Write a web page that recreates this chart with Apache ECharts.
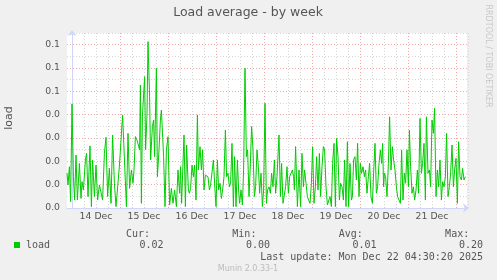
<!DOCTYPE html>
<html><head><meta charset="utf-8">
<script src="https://cdn.jsdelivr.net/npm/echarts@6/dist/echarts.min.js"></script>
<style>html,body{margin:0;padding:0;background:#f0f0f0;}#c{width:497px;height:280px;}</style>
</head><body><div id="c"></div>
<script>
// hours since 14 Dec 00:00
const sampleHours = [
-2.5,-2,-1.3,-0.7,0,0.7,1.3,2,2.7,3.7,4.5,5,5.7,6.7,7.3,8,9,9.7,10.3,11.2,12,12.8,13.7,14.5,15.3,16.2,17,17.8,18.7,19.5,20.3,21.2,22,22.8,23.7,24.5,25.3,
27.2,28,28.8,29.7,30.5,31,31.7,32.5,33.3,33.8,34.2,34.7,35.2,35.8,36.3,36.8,37.5,38,38.8,39.3,40.2,40.8,41.3,42.2,42.7,43.5,44.2,44.7,45.2,45.8,46.5,47.2,48,48.8,49.7,50.5,51.3,52.2,53,53.8,
54.3,54.8,56,56.7,57.3,58.2,58.7,59.3,60,60.7,61.3,62,62.7,63.2,64,64.7,65.3,66,66.7,67.3,68,68.7,69.3,70,70.7,71.3,72,72.7,73.3,74,74.7,75.3,76,76.7,77.3,78,78.7,79.3,80,80.7,81.3,82,82.7,
83.3,83.8,84.5,85.2,85.8,86.5,87.2,87.8,88.5,89.2,89.8,90.5,91.2,91.8,92.5,93.2,93.8,94.5,95.2,95.8,96.5,97.2,97.8,98.5,99.2,99.8,100.5,101.2,101.8,102.5,103.5,104.2,104.8,105.5,106.2,106.8,107.5,108.2,108.8,109.5,110.2,110.8,
111.2,111.8,112.7,113.5,114.3,115,115.7,116.3,117,117.7,118.3,119,119.7,120.3,121,121.7,122.3,123,123.7,124.3,125,125.7,126.3,127,127.7,128.3,129,129.7,130.3,131,131.7,132.3,133,133.7,134.3,135,135.7,136.3,137,137.7,138.3,139,139.7,
140.2,140.8,141.5,142.2,142.8,143.5,144.2,144.8,145.5,146.2,146.8,147.5,148.2,148.8,149.5,150.2,150.8,151.5,152.2,152.8,153.5,154.2,154.8,155.3,155.8,156.2,156.8,157.5,158.2,158.8,159.5,160.2,160.8,161.5,162.2,162.8,163.5,164.2,164.8,165.5,166.2,166.8,167.5,168.2,
168.7,169.3,170,170.7,171.3,172,172.7,173.3,174,174.7,175.3,176,176.7,177.2,178,178.7,179.3,180,180.7,181.3,182,182.7,183.3,184,184.7,185.3,186,186.7,187.3,188,188.7,189.3,190,190.7,191.3,192,192.7,193.3,194,194.7,195.3,196,196.7
];
const loadValues = [
.0149,.0099,.0177,.0027,.0446,.0134,.0034,.0227,.0034,.0191,.0041,.0113,.0077,.0206,.0234,.0049,.0266,.0006,.0206,.0049,.0184,.0034,.0099,.0099,.0034,.0234,.0303,.0049,.0170,.0020,.0313,.0106,.0006,.0006,.0180,.0184,.0399,
.0006,.0320,.0084,.0163,.0106,.0163,.0306,.0291,.0291,.0249,.0527,.0020,.0391,.0399,.0563,.0249,.0399,.0713,.0477,.0206,.0349,.0377,.0220,.0599,.0134,.0249,.0377,.0420,.0413,.0220,.0006,.0249,.0306,.0013,.0084,.0020,.0077,.0006,.0163,.0063,
.0177,.0020,.0313,.0006,.0270,.0077,.0063,.0084,.0184,.0134,.0184,.0034,.0399,.0163,.0263,.0163,.0249,.0077,.0141,.0149,.0134,.0077,.0099,.0091,.0206,.0106,.0006,.0206,.0077,.0106,.0041,.0077,.0134,.0334,.0134,.0149,.0091,.0106,.0277,.0006,.0220,.0006,.0206,
.0077,.0020,.0077,.0013,.0163,.0599,.0220,.0249,.0049,.0191,.0349,.0249,.0049,.0091,.0249,.0177,.0063,.0149,.0006,.0077,.0449,.0020,.0077,.0091,.0063,.0149,.0091,.0206,.0063,.0134,.0313,.0049,.0191,.0020,.0013,.0091,.0177,.0063,.0134,.0134,.0163,.0134,
.0077,.0263,.0006,.0163,.0006,.0234,.0091,.0163,.0106,.0049,.0034,.0020,.0106,.0263,.0020,.0091,.0220,.0077,.0234,.0049,.0177,.0263,.0249,.0091,.0013,.0020,.0049,.0006,.0191,.0277,.0006,.0299,.0220,.0034,.0106,.0091,.0034,.0206,.0006,.0284,.0006,.0191,.0034,
.0049,.0206,.0220,.0120,.0277,.0049,.0191,.0149,.0177,.0134,.0163,.0063,.0134,.0191,.0049,.0020,.0149,.0277,.0063,.0091,.0191,.0249,.0191,.0277,.0091,.0149,.0134,.0049,.0191,.0391,.0163,.0263,.0206,.0163,.0091,.0049,.0034,.0020,.0249,.0034,.0149,.0106,.0249,.0091,
.0334,.0177,.0063,.0091,.0034,.0077,.0163,.0063,.0384,.0149,.0191,.0277,.0034,.0391,.0149,.0163,.0091,.0377,.0320,.0427,.0049,.0163,.0091,.0206,.0034,.0113,.0091,.0134,.0320,.0049,.0091,.0149,.0270,.0091,.0163,.0213,.0020,.0284,.0134,.0120,.0170,.0120,.0134
];
const dayLabels = ['14 Dec','15 Dec','16 Dec','17 Dec','18 Dec','19 Dec','20 Dec','21 Dec'];
const yTickLabels = ['0.0','0.0','0.0','0.0','0.0','0.1','0.1','0.1'];
const statNames = ['Cur:','Min:','Avg:','Max:'];
const statValues = ['0.02','0.00','0.01','0.20'];
const seriesName = 'load';
const titleText = 'Load average - by week';
const yAxisTitle = 'load';
const lastUpdate = 'Last update: Mon Dec 22 04:30:20 2025';
const creditText = 'RRDTOOL / TOBI OETIKER';
const versionText = 'Munin 2.0.33-1';

const n = Math.min(sampleHours.length, loadValues.length);
const data = [];
for (let i = 0; i < n; i++) data.push([sampleHours[i], loadValues[i]]);

const RED = '#f3a9a9', GREY = '#d6d6d6', AXIS = '#cfd6f8', FONT = '#555';
const sans = '"DejaVu Sans", sans-serif', mono = '"DejaVu Sans Mono", monospace';

const graphics = [
  {type:'text', x:248, y:13, style:{text:titleText, font:'12.5px '+sans, fill:FONT, align:'center', verticalAlign:'middle'}},
  {type:'text', x:9, y:118, rotation:Math.PI/2, style:{text:yAxisTitle, font:'11px '+sans, fill:FONT, align:'center', verticalAlign:'middle'}},
  {type:'text', x:488, y:56, rotation:-Math.PI/2, style:{text:creditText, font:'8px '+sans, fill:'#c8c8c8', align:'center', verticalAlign:'middle'}},
  {type:'rect', shape:{x:14, y:242, width:6, height:6}, style:{fill:'#00cc00'}},
  {type:'text', x:26, y:245.5, style:{text:seriesName, font:'10px '+mono, fill:FONT, align:'left', verticalAlign:'middle'}},
  {type:'text', x:483, y:257, style:{text:lastUpdate, font:'10px '+mono, fill:FONT, align:'right', verticalAlign:'middle'}},
  {type:'text', x:248, y:269, style:{text:versionText, font:'8px '+sans, fill:'#bbb', align:'center', verticalAlign:'middle'}}
];
statNames.forEach((s, i) => {
  graphics.push({type:'text', x:150 + i*106.4, y:234, style:{text:s, font:'10px '+mono, fill:FONT, align:'right', verticalAlign:'middle'}});
  graphics.push({type:'text', x:163.5 + i*106.5, y:245.5, style:{text:statValues[i], font:'10px '+mono, fill:FONT, align:'right', verticalAlign:'middle'}});
});

const chart = echarts.init(document.getElementById('c'), null, {renderer:'canvas'});
chart.setOption({
  animation:false,
  backgroundColor:'#f0f0f0',
  grid:[
    {left:67, right:30, top:33, bottom:72, show:true, backgroundColor:'#fff', borderWidth:0, z:-5},
    {left:72, right:29, top:33, bottom:72, show:false}
  ],
  xAxis:[
    {type:'value', gridIndex:0, min:-2.5, max:197.5,
     axisLine:{show:true, lineStyle:{color:AXIS, width:1}, symbol:['none','arrow'], symbolSize:[7,6], symbolOffset:[0,2]},
     axisTick:{show:false}, axisLabel:{show:false}, splitLine:{show:false}},
    {type:'value', gridIndex:1, min:0, max:198, interval:6,
     axisLine:{show:false}, axisTick:{show:false},
     axisLabel:{show:true, color:FONT, fontFamily:'DejaVu Sans', fontSize:9.3, margin:4,
       formatter:(v)=>{const h=Math.round(v); return (h%24===12) ? (dayLabels[(h-12)/24]||'') : '';}},
     splitLine:{show:true, lineStyle:{color:[RED,GREY,GREY,GREY], type:[1,2], width:1}}}
  ],
  yAxis:[
    {type:'value', gridIndex:0, min:0, max:0.075, interval:0.005,
     axisLine:{show:true, lineStyle:{color:AXIS, width:1}, symbol:['none','arrow'], symbolSize:[7,6], symbolOffset:[0,3]},
     axisTick:{show:false},
     axisLabel:{show:true, color:FONT, fontFamily:'DejaVu Sans', fontSize:9.3, margin:7,
       formatter:(v)=>{const k=Math.round(v/0.005); return (k%2===0) ? (yTickLabels[k/2]||'') : '';}},
     splitLine:{show:true, lineStyle:{color:[RED,GREY], type:[1,2], width:1}}},
    {type:'value', gridIndex:1, min:0, max:0.075, show:false, splitLine:{show:false}}
  ],
  series:[{
    name:seriesName, type:'line', xAxisIndex:0, yAxisIndex:0, data:data,
    showSymbol:false, symbol:'none', silent:true,
    lineStyle:{color:'#00cc00', width:1}
  }],
  graphic:graphics
});
</script>
</body></html>
